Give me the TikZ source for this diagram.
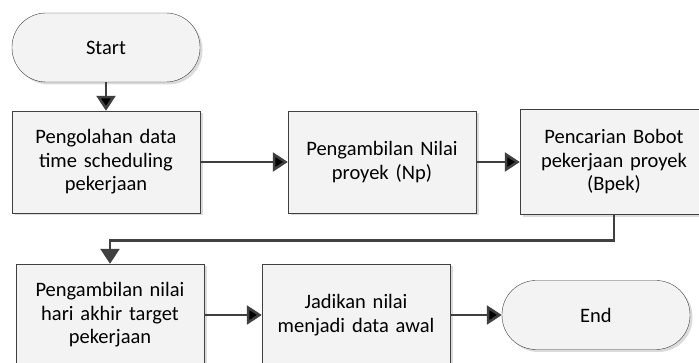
\documentclass[tikz,border=0pt]{standalone}
\usepackage{fontspec}
\setmainfont{Carlito}
\usetikzlibrary{positioning,arrows.meta,shadows}
\definecolor{garis}{HTML}{404040}
\definecolor{isi}{HTML}{F3F3F3}
\tikzset{
    proses/.style={draw=garis, fill=isi, minimum width=188pt, minimum height=102pt,
        text width=180pt, align=center, font=\fontsize{20.5}{23.5}\selectfont,
        drop shadow={shadow xshift=2.5pt, shadow yshift=-2.5pt, fill=black!14, opacity=1}},
    terminal/.style={proses, minimum height=69pt, rounded corners=34pt},
    alur/.style={draw=garis, line width=2.6pt, -{Triangle[length=15pt,width=19pt]}}
}
\begin{document}
\begin{tikzpicture}[node distance=150pt,on grid]
            \useasboundingbox (0,0) rectangle (699pt,363pt);
            \node[terminal] (term_start) at (106pt,315.5pt) {Start};
            \node[proses] (olah_data) [below=114.5pt of term_start] {Pengolahan data\\time scheduling\\pekerjaan};
            \node[proses] (nilai_np) [right=276pt of olah_data] {Pengambilan Nilai\\proyek (Np)};
            \node[proses, minimum height=105pt] (bobot_bpek) [right=232pt of nilai_np] {Pencarian Bobot\\pekerjaan proyek\\(Bpek)};
            \node[proses] (hari_akhir) [below=153pt of olah_data, xshift=4pt] {Pengambilan nilai\\hari akhir target\\pekerjaan};
            \node[proses] (data_awal) [right=246pt of hari_akhir] {Jadikan nilai\\menjadi data awal};
            \node[terminal] (term_end) [right=240pt of data_awal] {End};
            \path[alur]
                (term_start)
                    edge (olah_data)
                (olah_data)
                    edge (nilai_np)
                (nilai_np)
                    edge (bobot_bpek)
                (hari_akhir)
                    edge (data_awal)
                (data_awal)
                    edge (term_end);
            % elbow down to the second row
            \draw[alur] (bobot_bpek.south) -- ++(0,-26pt) -| (hari_akhir.north);
        \end{tikzpicture}
\end{document}
